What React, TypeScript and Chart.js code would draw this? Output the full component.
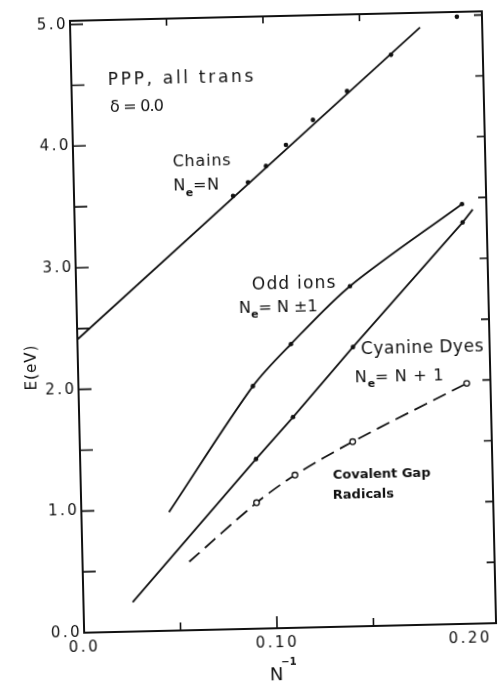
import React, { useEffect, useRef } from "react";
import { Chart, registerables } from "chart.js";

Chart.register(...registerables);

// ---- data (x = 1/N, y = E in eV) ----
const chainsLineX = [0, 0.1813];
const chainsLineE = [2.41, 4.91];
const chainsX = [0.0824, 0.0903, 0.0998, 0.1104, 0.1247, 0.1427, 0.1659, 0.2005];
const chainsE = [3.56, 3.67, 3.8, 3.97, 4.17, 4.4, 4.69, 4.99];
const oddIonsX = [0.0454, 0.0904, 0.1106, 0.1419, 0.2009];
const oddIonsE = [0.975, 1.994, 2.332, 2.797, 3.45];
const oddIonsMarked = [false, true, true, true, true];
const cyanineX = [0.0255, 0.0911, 0.1108, 0.1427, 0.201, 0.2064];
const cyanineE = [0.241, 1.394, 1.732, 2.296, 3.299, 3.404];
const cyanineMarked = [false, true, true, true, true, false];
const covalentX = [0.0553, 0.0909, 0.1111, 0.1414, 0.2012];
const covalentE = [0.563, 1.035, 1.255, 1.518, 1.976];
const covalentMarked = [false, true, true, true, true];

// ---- ticks ----
const yLabelValues = [0, 1, 2, 3, 4, 5];
const yTickValues = [0.5, 1, 1.5, 2, 2.5, 3, 3.5, 4, 4.5, 5];
const xLabelValues = [0, 0.1, 0.2];
const xTickLabels = ["0.0", "0.10", "0.20"];
const xTickValues = [0.05, 0.1, 0.15];
const xMajorTickValues = [0.1];

const X_MAX = 0.2135;
const Y_MAX = 5.03;
const FONT = '"DejaVu Sans", sans-serif';

type Part = { t: string; sub?: boolean };
type Label = { x: number; y: number; size: number; ls: number; weight?: string; parts: Part[] };

const textLabels: Label[] = [
  { x: 0.0189, y: 4.495, size: 17, ls: 2.7, parts: [{ t: "PPP, all trans" }] },
  { x: 0.0197, y: 4.273, size: 16, ls: -0.8, parts: [{ t: "δ = 0.0" }] },
  { x: 0.0515, y: 3.817, size: 16, ls: 0.8, parts: [{ t: "Chains" }] },
  { x: 0.0515, y: 3.614, size: 16, ls: 0.5, parts: [{ t: "N" }, { t: "e", sub: true }, { t: "=N" }] },
  { x: 0.0911, y: 2.783, size: 17, ls: 1.2, parts: [{ t: "Odd ions" }] },
  { x: 0.0841, y: 2.597, size: 16, ls: 0, parts: [{ t: "N" }, { t: "e", sub: true }, { t: "= N ±1" }] },
  { x: 0.1468, y: 2.237, size: 17, ls: 0.5, parts: [{ t: "Cyanine Dyes" }] },
  { x: 0.1433, y: 2.008, size: 16, ls: 0.7, parts: [{ t: "N" }, { t: "e", sub: true }, { t: "= N + 1" }] },
  { x: 0.1307, y: 1.215, size: 13, ls: 0, weight: "bold", parts: [{ t: "Covalent Gap" }] },
  { x: 0.1305, y: 1.051, size: 13, ls: 0, weight: "bold", parts: [{ t: "Radicals" }] },
];

const pts = (xs: number[], ys: number[]) => xs.map((x, i) => ({ x, y: ys[i] }));

const framePlugin = {
  id: "frameAndText",
  beforeDraw(chart: any) {
    chart.ctx.letterSpacing = "2.5px";
  },
  afterDatasetsDraw(chart: any) {
    const { ctx, chartArea: a, scales } = chart;
    const xs = scales.x;
    const ys = scales.y;
    ctx.save();
    ctx.letterSpacing = "0px";
    ctx.strokeStyle = "#111";
    ctx.lineWidth = 2;
    ctx.strokeRect(a.left, a.top, a.right - a.left, a.bottom - a.top);
    ctx.lineWidth = 1.6;
    ctx.beginPath();
    for (const v of yTickValues) {
      const py = ys.getPixelForValue(v);
      ctx.moveTo(a.left, py);
      ctx.lineTo(a.left + 13, py);
      ctx.moveTo(a.right, py);
      ctx.lineTo(a.right - 8, py);
    }
    for (const v of xTickValues) {
      const px = xs.getPixelForValue(v);
      const len = xMajorTickValues.includes(v) ? 12 : 8;
      ctx.moveTo(px, a.bottom);
      ctx.lineTo(px, a.bottom - len);
      ctx.moveTo(px, a.top);
      ctx.lineTo(px, a.top + 7);
    }
    ctx.stroke();

    ctx.fillStyle = "#111";
    ctx.textBaseline = "alphabetic";
    ctx.textAlign = "left";
    for (const lb of textLabels) {
      let cx = xs.getPixelForValue(lb.x);
      const by = ys.getPixelForValue(lb.y);
      for (const p of lb.parts) {
        const s = p.sub ? Math.round(lb.size * 0.68) : lb.size;
        ctx.font = `${p.sub ? "bold" : lb.weight || "normal"} ${s}px ${FONT}`;
        ctx.letterSpacing = `${p.sub ? 0 : lb.ls}px`;
        ctx.fillText(p.t, cx, by + (p.sub ? lb.size * 0.33 : 0));
        cx += ctx.measureText(p.t).width;
      }
    }

    // y-axis title
    ctx.save();
    ctx.font = `normal 15px ${FONT}`;
    ctx.letterSpacing = "1px";
    ctx.translate(a.left - 46, ys.getPixelForValue(2.19));
    ctx.rotate(-Math.PI / 2);
    ctx.textAlign = "center";
    ctx.textBaseline = "middle";
    ctx.fillText("E(eV)", 0, 0);
    ctx.restore();

    // x-axis title N^-1
    ctx.letterSpacing = "0px";
    ctx.textAlign = "left";
    ctx.font = `normal 18px ${FONT}`;
    const nx = xs.getPixelForValue(0.0958);
    ctx.fillText("N", nx, a.bottom + 52);
    const nw = ctx.measureText("N").width;
    ctx.font = `bold 10px ${FONT}`;
    ctx.fillText("−1", nx + nw - 2, a.bottom + 37);
    ctx.restore();
  },
  afterDraw(chart: any) {
    chart.ctx.letterSpacing = "0px";
  },
};

export default function App() {
  const ref = useRef<HTMLCanvasElement | null>(null);
  useEffect(() => {
    if (!ref.current) return;
    const lineCommon = {
      showLine: true,
      borderColor: "#111",
      borderWidth: 1.8,
      pointBackgroundColor: "#111",
      pointBorderColor: "#111",
      pointBorderWidth: 0,
      fill: false,
    };
    const chart = new Chart(ref.current, {
      type: "scatter",
      data: {
        datasets: [
          { ...lineCommon, label: "Chains fit", data: pts(chainsLineX, chainsLineE), pointRadius: 0, tension: 0 },
          { ...lineCommon, label: "Chains", data: pts(chainsX, chainsE), showLine: false, pointRadius: 2.3 },
          {
            ...lineCommon,
            label: "Odd ions",
            data: pts(oddIonsX, oddIonsE),
            cubicInterpolationMode: "default",
            tension: 0.3,
            pointRadius: oddIonsMarked.map((m) => (m ? 2.3 : 0)),
          },
          {
            ...lineCommon,
            label: "Cyanine Dyes",
            data: pts(cyanineX, cyanineE),
            tension: 0,
            pointRadius: cyanineMarked.map((m) => (m ? 2.3 : 0)),
          },
          {
            ...lineCommon,
            label: "Covalent Gap Radicals",
            data: pts(covalentX, covalentE),
            cubicInterpolationMode: "default",
            tension: 0.3,
            borderDash: [14, 7],
            pointRadius: covalentMarked.map((m) => (m ? 2.8 : 0)),
            pointBackgroundColor: "#fff",
            pointBorderWidth: 1.3,
          },
        ],
      } as any,
      options: {
        responsive: false,
        animation: false,
        devicePixelRatio: 1,
        layout: { padding: { top: 16, right: 9, left: 0, bottom: 0 } },
        plugins: { legend: { display: false }, tooltip: { enabled: false } },
        scales: {
          x: {
            type: "linear",
            min: 0,
            max: X_MAX,
            grid: { display: false, drawTicks: false },
            border: { display: false },
            ticks: {
              font: { family: FONT, size: 15 },
              color: "#111",
              padding: 6,
              maxRotation: 0,
              autoSkip: false,
              callback: (_v: any, i: number) => xTickLabels[i],
            },
            afterBuildTicks: (s: any) => {
              s.ticks = xLabelValues.map((v) => ({ value: v }));
            },
            afterFit: (s: any) => {
              s.height = 55;
            },
          },
          y: {
            type: "linear",
            min: 0,
            max: Y_MAX,
            grid: { display: false, drawTicks: false },
            border: { display: false },
            ticks: {
              font: { family: FONT, size: 15 },
              color: "#111",
              padding: 2,
              autoSkip: false,
              callback: (v: any) => Number(v).toFixed(1),
            },
            afterBuildTicks: (s: any) => {
              s.ticks = yLabelValues.map((v) => ({ value: v }));
            },
            afterFit: (s: any) => {
              s.width = 77;
            },
          },
        },
      } as any,
      plugins: [framePlugin],
    });
    return () => chart.destroy();
  }, []);

  return (
    <div
      style={{
        position: "absolute",
        left: 0,
        top: 0,
        width: 498,
        height: 683,
        background: "#fff",
        transform: "rotate(-1.33deg)",
        transformOrigin: "283.6px 322.1px",
      }}
    >
      <canvas ref={ref} width={498} height={683} style={{ display: "block" }} />
    </div>
  );
}
